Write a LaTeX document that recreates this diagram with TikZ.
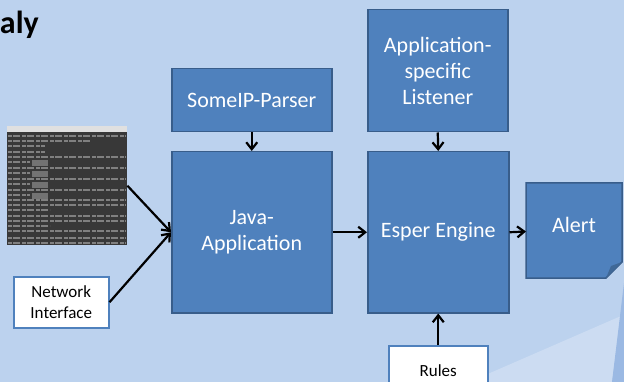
\documentclass[tikz,border=0pt]{standalone}
\usepackage{fontspec}
\setmainfont{Carlito}
\usetikzlibrary{arrows.meta}
\definecolor{bgblue}{HTML}{BCD2EE}
\definecolor{lightw}{HTML}{CCDCF2}
\definecolor{darkw}{HTML}{9BB9E3}
\definecolor{boxfill}{HTML}{4F81BD}
\definecolor{boxline}{HTML}{385D8A}
\definecolor{foldc}{HTML}{3F6897}
\tikzset{
  x=1pt,y=-1pt,
  blue box/.style={draw=boxline,line width=1.5pt,fill=boxfill,text=white,align=center,font=\fontsize{22}{26}\selectfont,inner sep=0pt,anchor=north west},
  white box/.style={draw=boxfill,line width=1.5pt,fill=white,text=black,align=center,font=\fontsize{17}{21}\selectfont,inner sep=0pt,anchor=north west},
  conn/.style={-{Straight Barb[length=7pt,width=11pt,line width=2.2pt]},line width=2.2pt,black},
}
\begin{document}
\begin{tikzpicture}
\useasboundingbox (0,0) rectangle (624,382);
\clip (0,0) rectangle (624,382);
\fill[bgblue] (0,0) rectangle (624,382);
\fill[lightw] (490,373) -- (621,316) -- (612,382) -- (470,382) -- cycle;
\fill[darkw] (624,283) -- (612,382) -- (624,382) -- cycle;
\node[anchor=east,font=\bfseries\fontsize{32}{36}\selectfont,text=black,inner sep=0pt] (title) at (39,25) {aly};
% terminal screenshot
\node[fill=black!78,minimum width=120pt,minimum height=119pt,inner sep=0pt,anchor=north west] (shot) at (7,126) {};
\fill[black!12] (7,126) rectangle (127,132);
\foreach \y/\a/\b in {136/8/126,141/8/90,146/8/45,152/8/45,157/8/126,162/8/30,168/8/126,173/8/30,179/8/126,184/8/30,190/8/126,195/8/30,200/8/126,205/8/126,210/8/50,216/8/126,221/8/126,226/8/50,231/8/126,238/8/126,243/8/126}{
  \draw[black!50,line width=1.7pt,dash pattern=on 4pt off 1pt on 7pt off 2pt] (\a,\y) -- (\b,\y);
}
\foreach \y in {163,174,185,196}{
  \fill[black!55] (32,\y-3) rectangle (48,\y+3);
}
\node[blue box,minimum width=160pt,minimum height=63pt] (parser) at (171,68) {SomeIP-Parser};
\node[blue box,minimum width=160pt,minimum height=161pt] (java) at (171,151) {Java-\\Application};
\node[blue box,minimum width=140pt,minimum height=122pt] (listener) at (367,9) {Application-\\specific\\Listener};
\node[blue box,minimum width=141pt,minimum height=161pt] (esper) at (367,151) {Esper Engine};
\draw[boxline,line width=1.5pt,fill=boxfill] (526,183) -- (622,183) -- (622,262) -- (606,278) -- (526,278) -- cycle;
\fill[foldc] (606,278) -- (611,266) -- (622,262) -- cycle;
\node[text=white,font=\fontsize{22}{26}\selectfont,inner sep=0pt] (alert) at (574,225) {Alert};
\coordinate (alertin) at (526,231.5);
\node[white box,minimum width=95pt,minimum height=51pt] (netif) at (13,276) {Network\\Interface};
\node[white box,minimum width=99pt,minimum height=50pt] (rules) at (388,345) {Rules};
\draw[conn] (parser.south) -- (java.north);
\draw[conn] (listener.south) -- (esper.north);
\draw[conn] (java.east) -- (esper.west);
\draw[conn] (esper.east) -- (alertin);
\draw[conn] (rules.north) -- (esper.south);
\draw[conn] (shot.east) -- (java.west);
\draw[conn] (netif.east) -- (java.west);
\end{tikzpicture}
\end{document}
